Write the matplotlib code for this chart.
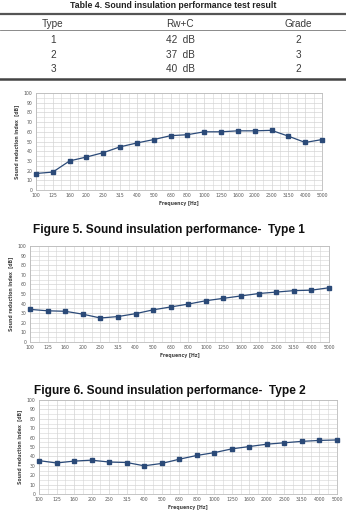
import matplotlib
matplotlib.use("Agg")

import matplotlib.pyplot as plt
import numpy as np
from matplotlib.ticker import MultipleLocator

W, H = 346, 523

freq_labels = ["100", "125", "160", "200", "250", "315", "400", "500", "630",
               "800", "1000", "1250", "1600", "2000", "2500", "3150", "4000", "5000"]
type1 = [17, 18.5, 30, 34, 38.5, 44.5, 48.5, 52, 56, 57, 60, 60, 61, 61, 61.5, 55.5, 49, 52]
type2 = [34, 32.5, 32, 29, 25, 26.5, 29.5, 33.5, 36.5, 39.5, 43, 45.5, 48, 50.5, 52, 53.5, 54, 56.5]
type3 = [35.5, 33, 35, 36, 34, 33.5, 30, 32.5, 37, 41, 44, 48, 50.5, 53, 54.5, 56, 57, 57.5]

table_title = "Table 4. Sound insulation performance test result"
table_header = ["Type", "Rw+C", "Grade"]
table_types = ["1", "2", "3"]
table_rw = ["42  dB", "37  dB", "40  dB"]
table_grade = ["2", "3", "2"]

captions = ["Figure 5. Sound insulation performance-  Type 1",
            "Figure 6. Sound insulation performance-  Type 2"]

LINE = "#2b4a78"
GRID = "#d4d4d4"
TXT = "#444444"

fig = plt.figure(figsize=(W / 100, H / 100), dpi=100)
fig.patch.set_facecolor("white")

# page-coordinate overlay for table and captions (pixels, y down)
page = fig.add_axes([0, 0, 1, 1])
page.set_xlim(0, W)
page.set_ylim(H, 0)
page.axis("off")

cap_font = "Liberation Sans"
page.text(173, 6, table_title, ha="center", va="center", fontsize=6.3,
          fontweight="bold", family=cap_font, color="#222222")
page.plot([0, W], [14, 14], color="#555555", lw=1.6)
page.plot([0, W], [30, 30], color="#777777", lw=0.6)
page.plot([0, W], [79, 79], color="#444444", lw=1.8)
col_x = [53, 180, 298]
for cx, h in zip(col_x, table_header):
    page.text(cx, 24, h, ha="center", va="center", fontsize=7.2, color="#3a3a3a",
              family="Liberation Sans")
row_y = [40, 54.5, 69]
for ry, t, rw, g in zip(row_y, table_types, table_rw, table_grade):
    for cx, s in zip(col_x, (t, rw, g)):
        page.text(cx, ry, s, ha="center", va="center", fontsize=7.2, color="#3a3a3a",
                  family="Liberation Sans")

page.text(169, 230, captions[0], ha="center", va="center", fontsize=8.6,
          fontweight="bold", family=cap_font, color="#111111")
page.text(170, 391, captions[1], ha="center", va="center", fontsize=8.6,
          fontweight="bold", family=cap_font, color="#111111")


def draw_chart(left, right, top, bottom, values):
    ax = fig.add_axes([left / W, 1 - bottom / H, (right - left) / W, (bottom - top) / H])
    x = np.arange(len(freq_labels))
    ax.plot(x, values, color=LINE, lw=0.9, marker="s", ms=2.4, clip_on=False, zorder=3)
    ax.set_xlim(0, len(freq_labels) - 1)
    ax.set_ylim(0, 100)
    ax.set_xticks(x)
    ax.set_xticklabels(freq_labels)
    ax.xaxis.set_minor_locator(MultipleLocator(0.5))
    ax.yaxis.set_major_locator(MultipleLocator(10))
    ax.yaxis.set_minor_locator(MultipleLocator(5))
    ax.grid(True, which="major", color=GRID, lw=0.5)
    ax.grid(True, which="minor", color=GRID, lw=0.4)
    ax.set_axisbelow(True)
    for sp in ax.spines.values():
        sp.set_color("#bbbbbb")
        sp.set_linewidth(0.6)
    ax.tick_params(which="both", length=0, labelsize=3.3, labelcolor="#555555", pad=2.5)
    ax.set_xlabel("Frequency [Hz]", fontsize=3.3, fontweight="bold", color=TXT, labelpad=2)
    ax.set_ylabel("Sound reduction index  [dB]", fontsize=3.3, fontweight="bold",
                  color=TXT, labelpad=3)
    return ax


draw_chart(36, 322, 93, 190, type1)
draw_chart(30, 329, 246, 342, type2)
draw_chart(39, 337, 400, 494, type3)

fig.savefig("out.png", dpi=100)
plt.close(fig)
